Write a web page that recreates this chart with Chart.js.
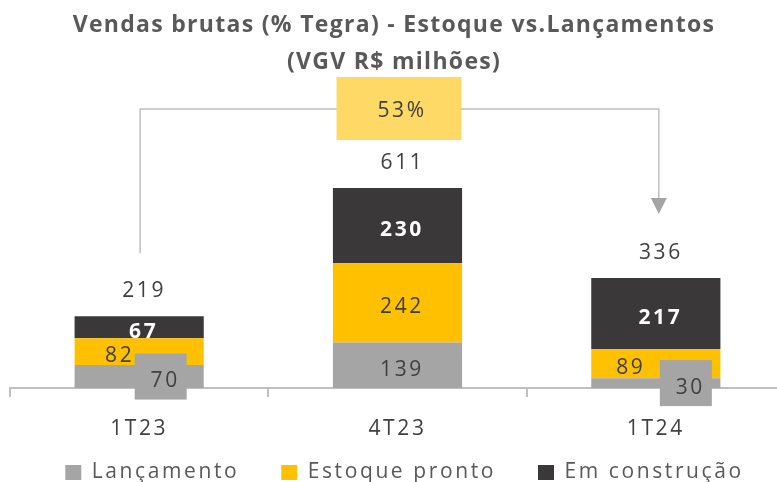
<!DOCTYPE html>
<html>
<head>
<meta charset="utf-8">
<script src="https://cdn.jsdelivr.net/npm/chart.js@4/dist/chart.umd.min.js"></script>
<style>
  html, body { margin: 0; padding: 0; background: #fff; overflow: hidden; }
  #wrap { width: 777px; height: 482px; overflow: hidden; }
</style>
</head>
<body>
<div id="wrap"><canvas id="vendasChart" width="815" height="482"></canvas></div>
<script>
// data
const quarters = ['1T23', '4T23', '1T24'];
const lancamento = [70, 139, 30];
const estoquePronto = [82, 242, 89];
const emConstrucao = [67, 230, 217];
const totals = [219, 611, 336];
const shareLabel = '53%';
const titleLines = ['Vendas brutas (% Tegra) - Estoque vs.Lançamentos', '(VGV R$ milhões)'];

const FONT = "'Open Sans', sans-serif";
const SPACING = '2.6px';
const GRAY = '#A5A5A5';
const YELLOW = '#FFC000';
const DARK = '#3A3838';
const LINE = '#BFBFBF';
const TEXT = '#404040';

// how each series' value labels are drawn (x shift in px, optional gray box)
const labelStyle = [
  { color: TEXT, weight: 'normal', shift: [21.5, 0, 30], boxed: [true, false, true] },
  { color: TEXT, weight: 'normal', shift: [-24, 0, -29.5], boxed: [false, false, false] },
  { color: '#ffffff', weight: 'bold', shift: [0, 0, 0], boxed: [false, false, false] },
];

// the slide font is wider than anything installed, so space the letters out
const spacing = {
  id: 'spacing',
  beforeLayout(chart) { chart.ctx.letterSpacing = SPACING; },
  beforeDraw(chart) { chart.ctx.letterSpacing = SPACING; },
};

const valueLabels = {
  id: 'valueLabels',
  afterDatasetsDraw(chart) {
    const ctx = chart.ctx;
    ctx.save();
    ctx.letterSpacing = SPACING;
    ctx.textAlign = 'center';
    ctx.textBaseline = 'alphabetic';
    chart.data.datasets.forEach((ds, i) => {
      const st = labelStyle[i];
      chart.getDatasetMeta(i).data.forEach((bar, j) => {
        const cx = bar.x + st.shift[j];
        const cy = (bar.y + bar.base) / 2;
        if (st.boxed[j]) {
          ctx.fillStyle = GRAY;
          ctx.fillRect(cx - 26, cy - 23, 52, 46);
        }
        ctx.fillStyle = st.color;
        ctx.font = st.weight + ' 21px ' + FONT;
        ctx.fillText(ds.data[j], cx + 4.5, cy + 10.5);
      });
    });
    // totals above each stack
    ctx.fillStyle = TEXT;
    ctx.font = 'normal 21px ' + FONT;
    chart.getDatasetMeta(2).data.forEach((bar, j) => ctx.fillText(totals[j], bar.x + 5, bar.y - 19));
    ctx.restore();
  }
};

const bracket = {
  id: 'bracket',
  afterDraw(chart) {
    const ctx = chart.ctx;
    const top = chart.getDatasetMeta(2).data;
    const from = top[0], mid = top[1], to = top[2];
    const lineY = 109;
    ctx.save();
    ctx.strokeStyle = LINE;
    ctx.lineWidth = 1.5;
    ctx.beginPath();
    ctx.moveTo(from.x + 1, from.y - 63);
    ctx.lineTo(from.x + 1, lineY);
    ctx.lineTo(to.x + 3, lineY);
    ctx.lineTo(to.x + 3, to.y - 79);
    ctx.stroke();
    // arrow head
    ctx.fillStyle = GRAY;
    ctx.beginPath();
    ctx.moveTo(to.x + 3 - 8, to.y - 80);
    ctx.lineTo(to.x + 3 + 8, to.y - 80);
    ctx.lineTo(to.x + 3, to.y - 64);
    ctx.closePath();
    ctx.fill();
    // share box
    ctx.fillStyle = '#FFD966';
    ctx.fillRect(mid.x - 61, lineY - 32, 125, 63);
    ctx.fillStyle = TEXT;
    ctx.letterSpacing = SPACING;
    ctx.font = 'normal 21px ' + FONT;
    ctx.textAlign = 'center';
    ctx.textBaseline = 'alphabetic';
    ctx.fillText(shareLabel, mid.x + 4.5, lineY + 8);
    // title
    ctx.fillStyle = '#595959';
    ctx.letterSpacing = '1.3px';
    ctx.font = 'bold 23px ' + FONT;
    ctx.fillText(titleLines[0], 394, 32);
    ctx.fillText(titleLines[1], 394, 68.5);
    ctx.restore();
  }
};

const ctx = document.getElementById('vendasChart').getContext('2d');
new Chart(ctx, {
  type: 'bar',
  data: {
    labels: quarters,
    datasets: [
      { label: 'Lançamento', data: lancamento, backgroundColor: GRAY },
      { label: 'Estoque pronto', data: estoquePronto, backgroundColor: YELLOW },
      { label: 'Em construção', data: emConstrucao, backgroundColor: DARK },
    ],
  },
  options: {
    responsive: false,
    animation: false,
    barPercentage: 0.5,
    categoryPercentage: 1.0,
    layout: { padding: { left: 10, right: 16, top: 100, bottom: -11 } },
    plugins: {
      title: { display: false },
      tooltip: { enabled: false },
      legend: {
        position: 'bottom',
        labels: {
          boxWidth: 16,
          boxHeight: 15,
          padding: 42,
          color: '#595959',
          font: { family: FONT, size: 21 },
        },
      },
    },
    scales: {
      x: {
        stacked: true,
        border: { color: LINE, width: 2 },
        grid: { offset: true, drawOnChartArea: false, drawTicks: true, tickLength: 9, color: LINE, lineWidth: 2 },
        ticks: { color: TEXT, padding: 19, font: { family: FONT, size: 21 } },
        afterFit(scale) {
          // squeeze the axis box so the legend sits close; let labels spill over it
          scale.height = 32;
          scale._computeLabelArea = () => undefined;
        },
      },
      y: {
        stacked: true,
        position: 'right',
        min: 0,
        max: 880,
        grid: { display: false },
        border: { display: false },
        ticks: { display: false },
        afterFit(scale) { scale.width = 14; },
      },
    },
  },
  plugins: [spacing, valueLabels, bracket],
});
</script>
</body>
</html>
